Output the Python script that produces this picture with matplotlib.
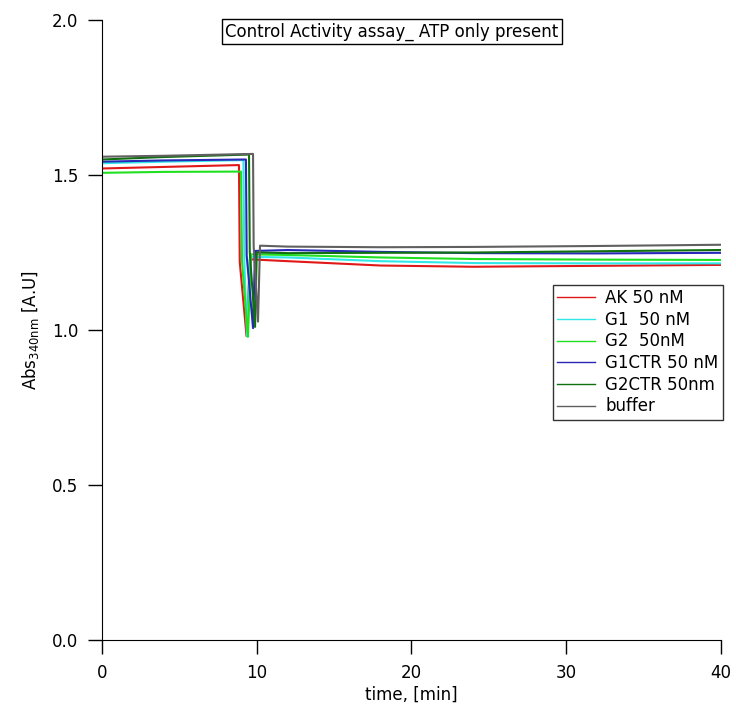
import matplotlib
matplotlib.use('Agg')
import matplotlib.pyplot as plt

# breakpoints of each absorbance trace: time [min], Abs340 [A.U]
ak_t = [0, 4, 8.85, 8.9, 9.34, 9.56, 12, 18, 24, 32, 40]
ak_v = [1.521, 1.526, 1.532, 1.22, 0.98, 1.228, 1.222, 1.208, 1.204, 1.207, 1.21]

g1_t = [0, 4, 9.14, 9.2, 9.37, 9.56, 12, 18, 24, 32, 40]
g1_v = [1.538, 1.543, 1.548, 1.22, 0.98, 1.236, 1.234, 1.222, 1.216, 1.215, 1.215]

g2_t = [0, 4, 8.98, 9.05, 9.43, 9.63, 12, 18, 24, 32, 40]
g2_v = [1.507, 1.51, 1.511, 1.22, 0.978, 1.244, 1.242, 1.234, 1.229, 1.227, 1.226]

g1ctr_t = [0, 4, 9.3, 9.35, 9.76, 9.89, 12, 18, 24, 32, 40]
g1ctr_v = [1.543, 1.547, 1.55, 1.24, 1.006, 1.255, 1.258, 1.252, 1.248, 1.247, 1.249]

g2ctr_t = [0, 4, 9.5, 9.55, 9.89, 10.0, 12, 18, 24, 32, 40]
g2ctr_v = [1.55, 1.558, 1.566, 1.25, 1.01, 1.25, 1.248, 1.249, 1.25, 1.254, 1.258]

buffer_t = [0, 4, 9.76, 9.8, 10.08, 10.21, 12, 18, 24, 32, 40]
buffer_v = [1.559, 1.562, 1.568, 1.27, 1.027, 1.272, 1.269, 1.267, 1.268, 1.271, 1.275]

labels = ['AK 50 nM', 'G1  50 nM', 'G2  50nM', 'G1CTR 50 nM', 'G2CTR 50nm', 'buffer']
colors = ['#e01818', '#30e8e8', '#20e020', '#2828b8', '#107010', '#606060']

traces = [(ak_t, ak_v), (g1_t, g1_v), (g2_t, g2_v),
          (g1ctr_t, g1ctr_v), (g2ctr_t, g2ctr_v), (buffer_t, buffer_v)]

fig = plt.figure(figsize=(7.36, 7.04), dpi=100)
ax = fig.add_axes([0.1386, 0.0909, 0.841, 0.8807])

for (t, v), lab, col in zip(traces, labels, colors):
  ax.plot(t, v, color=col, lw=1.5, label=lab)

ax.set_xlim(0, 40)
ax.set_ylim(0, 2.0)
ax.set_xticks([0, 10, 20, 30, 40])
ax.set_yticks([0.0, 0.5, 1.0, 1.5, 2.0])
ax.set_yticklabels(['0.0', '0.5', '1.0', '1.5', '2.0'])
for side in ['top', 'right']:
  ax.spines[side].set_visible(False)
ax.tick_params(direction='out', length=10, width=1, labelsize=12, pad=7)
ax.set_xlabel('time, [min]', fontsize=12, labelpad=3)
ax.set_ylabel(r'Abs$_{\mathrm{340nm}}$ [A.U]', fontsize=12, labelpad=8)

ax.text(0.468, 0.981, 'Control Activity assay_ ATP only present', transform=ax.transAxes,
        ha='center', va='center', fontsize=12,
        bbox=dict(boxstyle='square,pad=0.2', fc='white', ec='black', lw=1))

leg = ax.legend(loc='upper left', bbox_to_anchor=(0.7286, 0.5726), fontsize=12,
                frameon=True, fancybox=False, edgecolor='black', borderaxespad=0,
                handlelength=2.3, labelspacing=0.22, borderpad=0.25, handletextpad=0.6)
leg.get_frame().set_linewidth(1)
for line in leg.get_lines():
  line.set_linewidth(1)

fig.savefig('out.png', dpi=100)
